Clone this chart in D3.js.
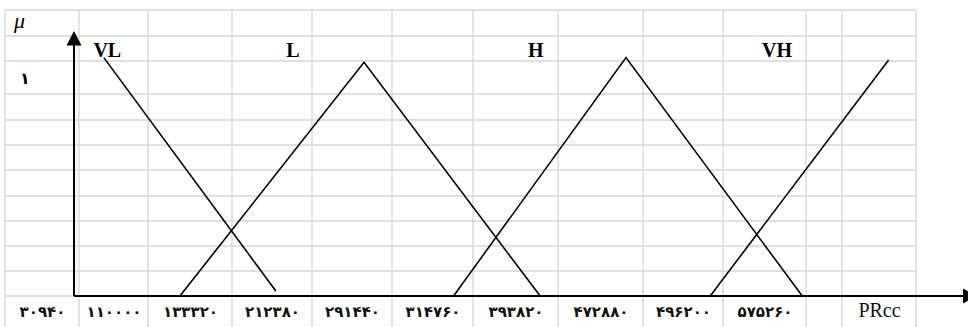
<!DOCTYPE html>
<html>
<head>
<meta charset="utf-8">
<script src="https://cdn.jsdelivr.net/npm/d3@7"></script>
<style>
  body { margin: 0; background: #fff; }
  svg { display: block; }
</style>
</head>
<body>
<svg width="968" height="327"></svg>
<script>
// Tick labels, one per spreadsheet column (Persian digits)
var tickLabels = ['۳۰۹۴۰', '۱۱۰۰۰۰', '۱۳۳۳۲۰', '۲۱۲۳۸۰', '۲۹۱۴۴۰', '۳۱۴۷۶۰',
                  '۳۹۳۸۲۰', '۴۷۲۸۸۰', '۴۹۶۲۰۰', '۵۷۵۲۶۰', '', 'PRcc'];

// Membership function names
var setNames = ['VL', 'L', 'H', 'VH'];

// Membership function vertices, x in column units, mu 0..1
var vlX = [1.36, 3.55];
var vlMu = [1.01, 0.02];
var lX = [2.38, 4.65, 6.79];
var lMu = [0, 0.99, 0];
var hX = [5.76, 7.80, 9.955];
var hMu = [0, 1.01, 0];
var vhX = [8.84, 11.63];
var vhMu = [0, 1.0];

// Where the set names sit (column units / mu)
var nameX = [1.41, 3.76, 6.74, 9.65];
var nameMu = [1.013, 1.013, 1.013, 1.013];

// Layout of the background grid (pixels)
var colEdges = [5, 79, 148, 232, 312, 392, 473, 558, 643, 723, 806, 842, 916];
var rowEdges = [10, 36, 61, 94, 120, 145, 170, 196, 221, 246, 271, 296, 340];
var axisX0 = 74, axisY0 = 296;

var svg = d3.select('svg');

// piecewise scale: column index -> pixel
var xScale = d3.scaleLinear()
    .domain(d3.range(colEdges.length))
    .range(colEdges);
var yScale = d3.scaleLinear()
    .domain([0, 1])
    .range([axisY0, 60]);

// grid
var gridG = svg.append('g').attr('class', 'grid');
gridG.selectAll('.vline')
    .data(colEdges)
    .enter().append('line')
    .attr('x1', function(d) { return d; })
    .attr('x2', function(d) { return d; })
    .attr('y1', rowEdges[0])
    .attr('y2', 327)
    .attr('stroke', '#d6d6d6')
    .attr('stroke-width', 1.3);
gridG.selectAll('.hline')
    .data(rowEdges.slice(0, -1))
    .enter().append('line')
    .attr('x1', colEdges[0])
    .attr('x2', colEdges[colEdges.length - 1])
    .attr('y1', function(d) { return d; })
    .attr('y2', function(d) { return d; })
    .attr('stroke', '#d6d6d6')
    .attr('stroke-width', 1.3);

// tick labels via axis
var isLatin = function(i) { return tickLabels[i] === 'PRcc'; };
var xAxis = d3.axisBottom(xScale)
    .tickValues(d3.range(tickLabels.length).map(function(i) { return i + 0.5; }))
    .tickFormat(function(d, i) { return tickLabels[i]; })
    .tickSize(0)
    .tickPadding(0);
var xAxisG = svg.append('g')
    .attr('class', 'x axis')
    .attr('transform', 'translate(0,' + 311 + ')')
    .call(xAxis);
xAxisG.select('.domain').remove();
xAxisG.selectAll('text')
    .attr('y', 0)
    .attr('fill', '#111')
    .style('font-family', function(d, i) { return isLatin(i) ? '"Liberation Serif", serif' : '"DejaVu Sans", sans-serif'; })
    .style('font-size', function(d, i) { return isLatin(i) ? '20px' : '15px'; })
    .style('font-weight', function(d, i) { return isLatin(i) ? 'normal' : 'bold'; })
    .attr('dy', function(d, i) { return isLatin(i) ? '0.28em' : '0.4em'; });

// axes with arrows
svg.append('line')
    .attr('x1', axisX0).attr('x2', axisX0)
    .attr('y1', axisY0).attr('y2', 44)
    .attr('stroke', '#000').attr('stroke-width', 2);
svg.append('path')
    .attr('d', 'M' + (axisX0 - 7.5) + ',45.5L' + axisX0 + ',31L' + (axisX0 + 7.5) + ',45.5Z')
    .attr('fill', '#000');
svg.append('line')
    .attr('x1', axisX0).attr('x2', 964)
    .attr('y1', axisY0).attr('y2', axisY0)
    .attr('stroke', '#000').attr('stroke-width', 2);
svg.append('path')
    .attr('d', 'M963,' + (axisY0 - 7.5) + 'L977,' + axisY0 + 'L963,' + (axisY0 + 7.5) + 'Z')
    .attr('fill', '#000');

// membership functions
var series = [
    {xs: vlX, mus: vlMu},
    {xs: lX, mus: lMu},
    {xs: hX, mus: hMu},
    {xs: vhX, mus: vhMu}
];
var line = d3.line()
    .x(function(d) { return xScale(d[0]); })
    .y(function(d) { return yScale(d[1]); });
svg.selectAll('.mf')
    .data(series)
    .enter().append('path')
    .attr('class', 'mf')
    .attr('d', function(s) { return line(d3.zip(s.xs, s.mus)); })
    .attr('fill', 'none')
    .attr('stroke', '#000')
    .attr('stroke-width', 1.6);

// set names
svg.selectAll('.name')
    .data(setNames)
    .enter().append('text')
    .attr('x', function(d, i) { return xScale(nameX[i]); })
    .attr('y', function(d, i) { return yScale(nameMu[i]); })
    .attr('text-anchor', 'middle')
    .style('font-family', '"Liberation Serif", serif')
    .style('font-weight', 'bold')
    .style('font-size', '20px')
    .text(function(d) { return d; });

// mu axis title and the "1" level
svg.append('text')
    .attr('x', 14).attr('y', 28)
    .style('font-family', '"Liberation Serif", serif')
    .style('font-style', 'italic')
    .style('font-size', '22px')
    .text('μ');
svg.append('text')
    .attr('x', 25).attr('y', 84)
    .attr('text-anchor', 'middle')
    .style('font-family', '"DejaVu Sans", sans-serif')
    .style('font-weight', 'bold')
    .style('font-size', '16px')
    .text('۱');
</script>
</body>
</html>
